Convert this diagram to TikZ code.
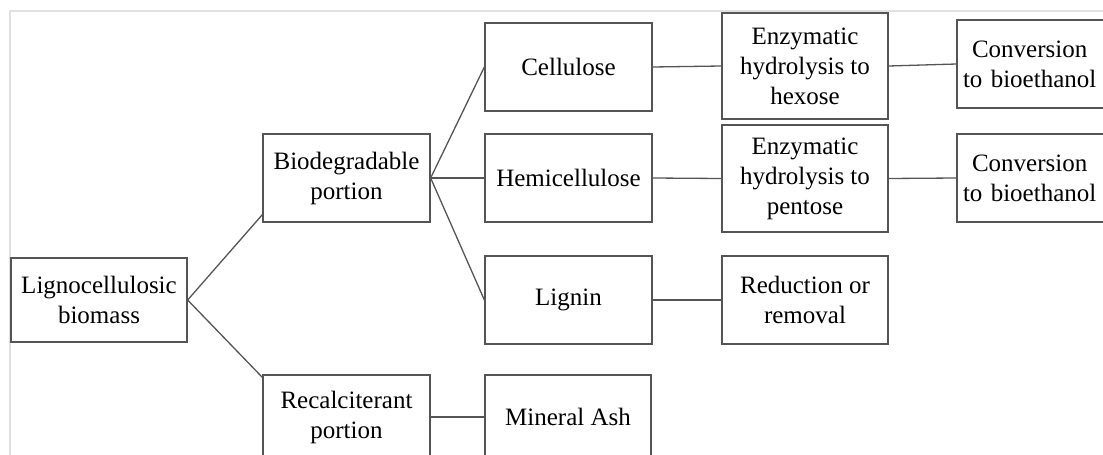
\documentclass[tikz,border=0pt]{standalone}
\usepackage{fontspec}
\setmainfont{Liberation Serif}
\usetikzlibrary{calc}
\definecolor{boxline}{RGB}{85,85,85}
\definecolor{frameline}{RGB}{224,224,224}
\begin{document}
\begin{tikzpicture}[x=1pt,y=-1pt,
  box/.style={draw=boxline,line width=1.3pt,rectangle,inner sep=0pt,align=center,
    font=\fontsize{25}{30}\selectfont},
  convbox/.style={box,minimum width=167,minimum height=88,text width=155,align=left},
  link/.style={draw=boxline,line width=1.3pt}]
\useasboundingbox (0,0) rectangle (1103,455);
\fill[white] (0,0) rectangle (1103,455);
\begin{scope}
\clip (0,0) rectangle (1103,455);
\draw[frameline,line width=2pt] (10,466) -- (10,11) -- (1110,11);
\node[box,minimum width=176,minimum height=84] (ligno) at (99,300) {Lignocellulosic\\biomass};
\node[box,minimum width=167,minimum height=88] (bio) at (346.5,178) {Biodegradable\\portion};
\node[box,minimum width=167,minimum height=84] (recalc) at (346.5,417) {Recalciterant\\portion};
\node[box,minimum width=166,minimum height=84] (mineral) at (568,417) {Mineral Ash};
\node[box,minimum width=167,minimum height=88] (cell) at (568.5,67) {Cellulose};
\node[box,minimum width=167,minimum height=88] (hemi) at (568.5,178) {Hemicellulose};
\node[box,minimum width=167,minimum height=88] (lignin) at (568.5,300) {Lignin};
\node[box,minimum width=166,minimum height=106] (enzhex) at (805,66) {Enzymatic\\hydrolysis to\\hexose};
\node[box,minimum width=166,minimum height=107] (enzpen) at (805,178.5) {Enzymatic\\hydrolysis to\\pentose};
\node[box,minimum width=166,minimum height=88] (red) at (805,300) {Reduction or\\removal};
\node[convbox] (conv1) at (1040.5,64) {\hspace*{9pt}Conversion\\to bioethanol};
\node[convbox] (conv2) at (1040.5,178) {\hspace*{9pt}Conversion\\to bioethanol};
\draw[link] (ligno.east) -- ($(bio.south west)+(0,-8)$);
\draw[link] (ligno.east) -- ($(recalc.north west)+(0,3)$);
\draw[link] (bio.east) -- (cell.west);
\draw[link] (bio.east) -- (hemi.west);
\draw[link] (bio.east) -- (lignin.west);
\draw[link] (recalc.east) -- (mineral.west);
\draw[link] (cell.east) -- (enzhex.west);
\draw[link] (hemi.east) -- (enzpen.west);
\draw[link] (lignin.east) -- (red.west);
\draw[link] (enzhex.east) -- (conv1.west);
\draw[link] (enzpen.east) -- (conv2.west);
\end{scope}
\end{tikzpicture}
\end{document}
